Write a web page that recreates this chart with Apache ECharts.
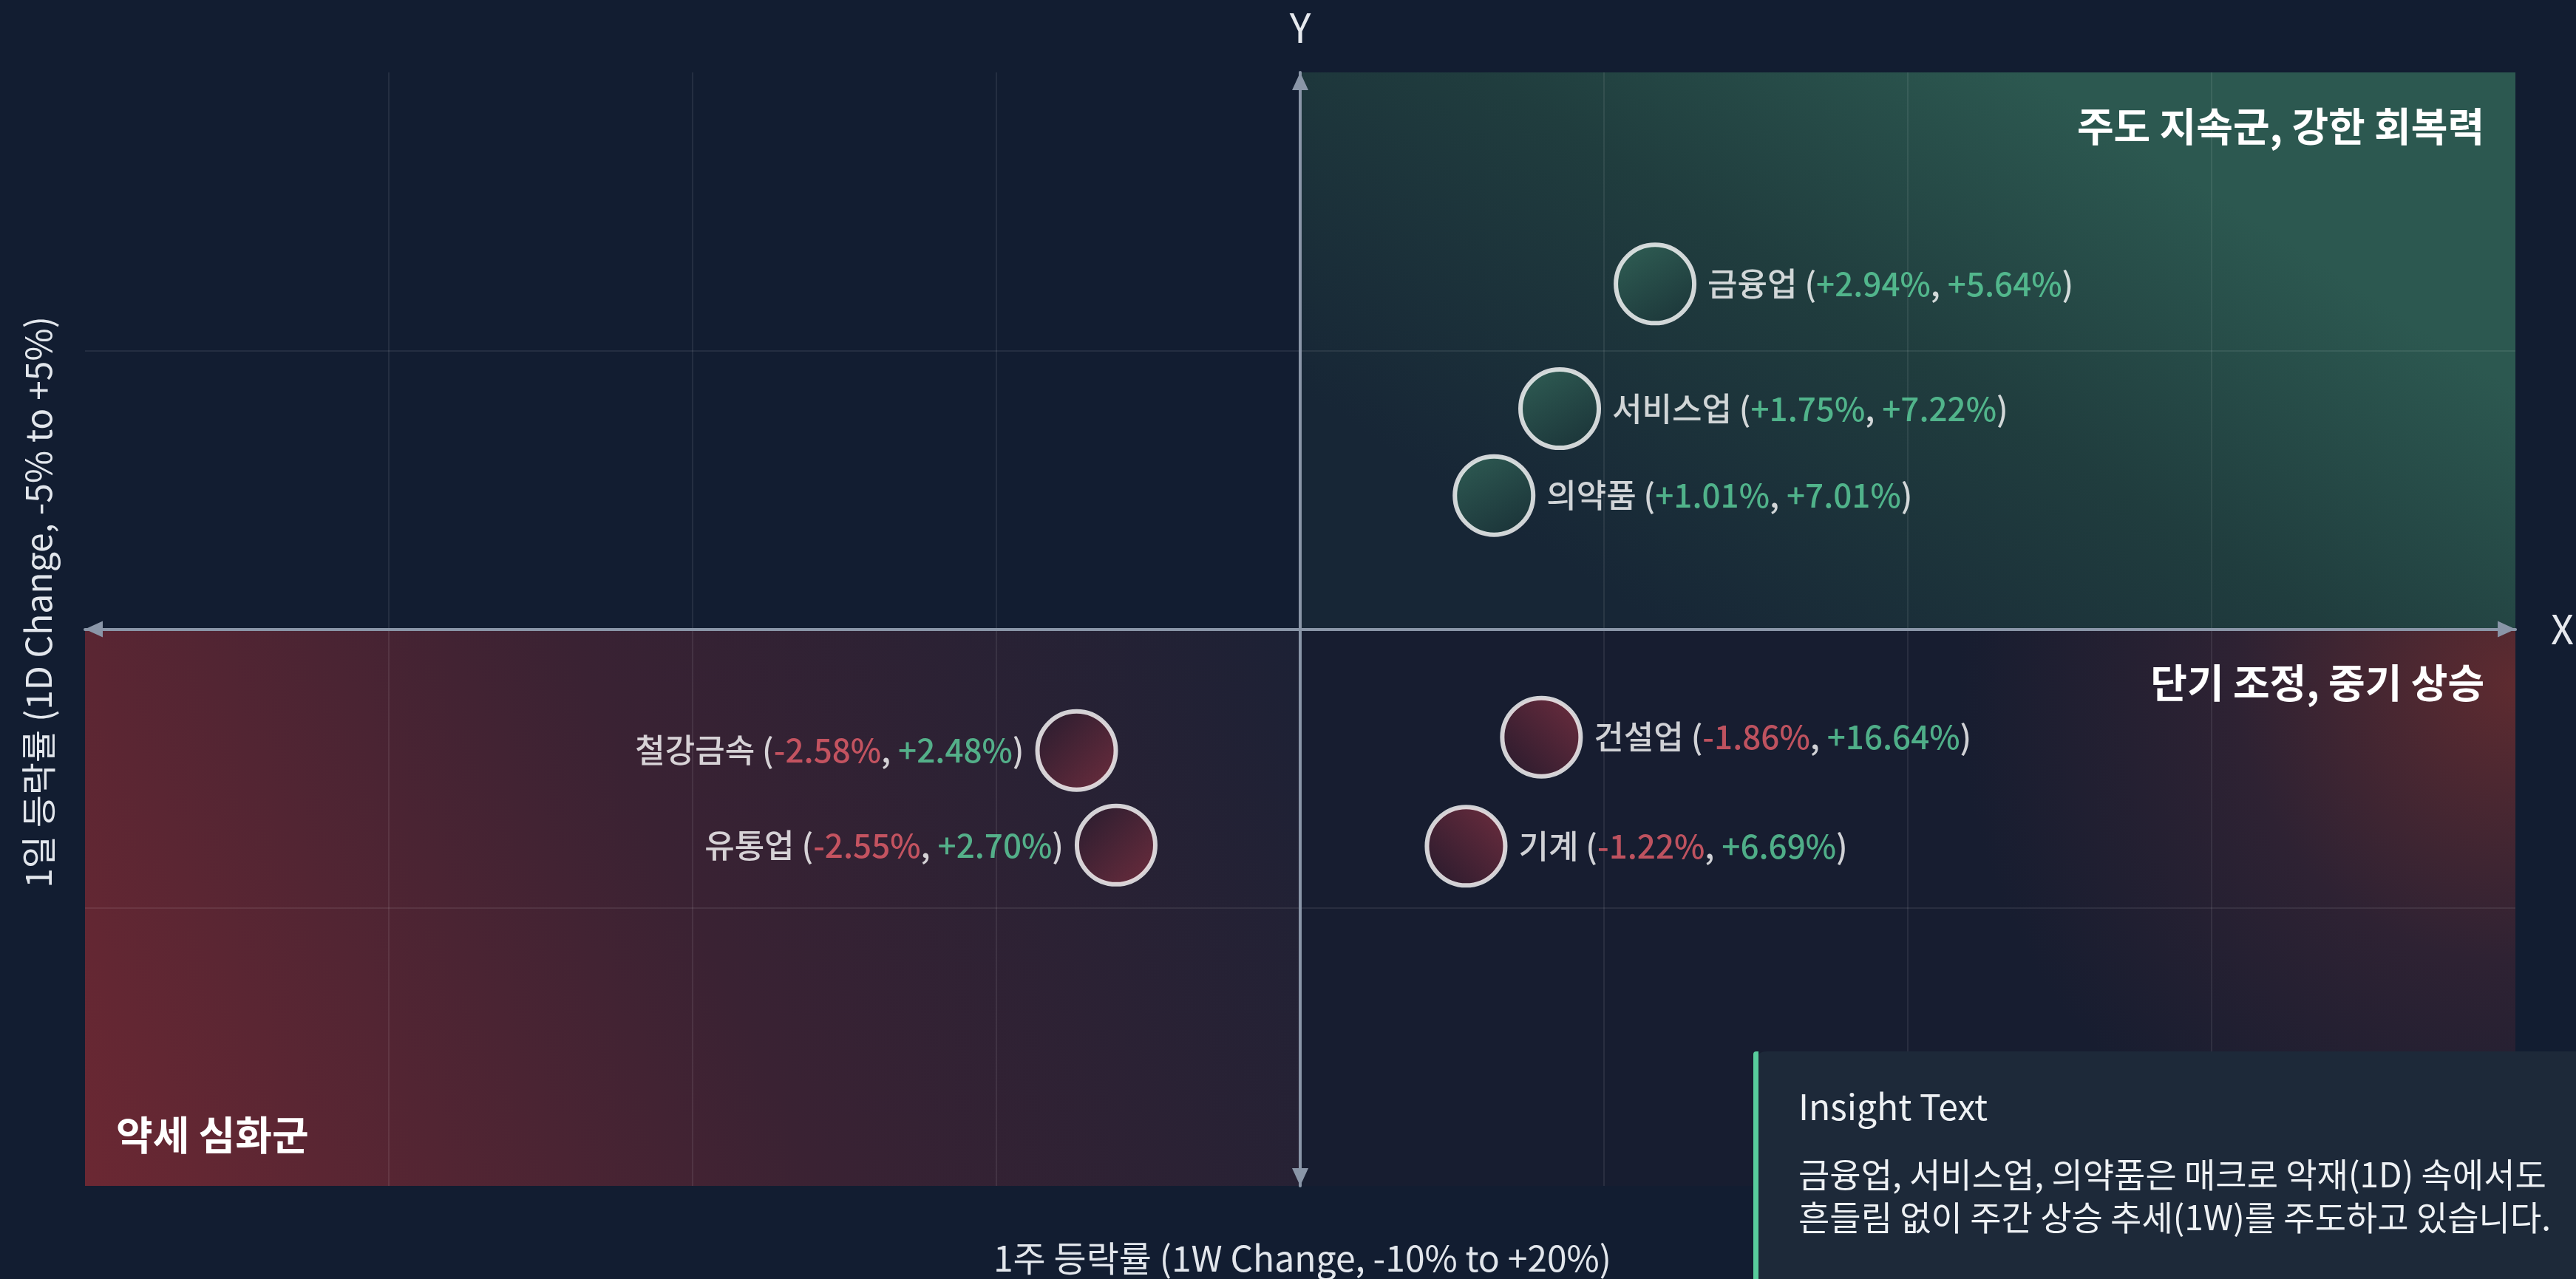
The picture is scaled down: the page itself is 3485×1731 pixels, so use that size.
<!DOCTYPE html>
<html>
<head>
<meta charset="utf-8">
<script src="https://cdn.jsdelivr.net/npm/echarts@6/dist/echarts.min.js"></script>
<style>
html,body{margin:0;padding:0;background:#121d31;}
#c{width:3485px;height:1731px;}
</style>
</head>
<body>
<div id="c"></div>
<script>
// ---- data ----
const categories = ['금융업', '서비스업', '의약품', '건설업', '기계', '철강금속', '유통업'];
const change1D = [2.94, 1.75, 1.01, -1.86, -1.22, -2.58, -2.55];
const change1W = [5.64, 7.22, 7.01, 16.64, 6.69, 2.48, 2.70];
// plotted positions (axis units)
const posX = [5.84, 4.27, 3.19, 3.97, 2.73, -3.68, -3.03];
const posY = [3.10, 1.98, 1.20, -0.97, -1.95, -1.09, -1.94];
const quadrantNames = ['주도 지속군, 강한 회복력', '단기 조정, 중기 상승', '약세 심화군'];
const xTitle = '1주 등락률 (1W Change, -10% to +20%)';
const yTitle = '1일 등락률 (1D Change, -5% to +5%)';
const insightTitle = 'Insight Text';
const insightLines = ['금융업, 서비스업, 의약품은 매크로 악재(1D) 속에서도', '흔들림 없이 주간 상승 추세(1W)를 주도하고 있습니다.'];

const FONT = '"Noto Sans CJK KR", "Noto Sans", sans-serif';
const GREEN = '#5ed39f';
const RED = '#e8606c';
const LBL = 44;

function fmt(v) { return (v > 0 ? '+' : '') + v.toFixed(2) + '%'; }
function tag(v) { return v >= 0 ? 'g' : 'r'; }

const greenFill = new echarts.graphic.LinearGradient(0.2, 0, 0.8, 1, [
  {offset: 0, color: '#336659'}, {offset: 1, color: '#1b3538'}]);
const redFillRight = new echarts.graphic.LinearGradient(1, 0, 0, 1, [
  {offset: 0, color: '#843142'}, {offset: 1, color: '#28192b'}]);
const redFillLeft = new echarts.graphic.LinearGradient(0, 0, 1, 1, [
  {offset: 0, color: '#241a2c'}, {offset: 1, color: '#803040'}]);

const points = categories.map((n, i) => ({
  name: n,
  value: [posX[i], posY[i]],
  itemStyle: {color: posY[i] >= 0 ? greenFill : (posX[i] >= 0 ? redFillRight : redFillLeft)},
  label: {
    position: posX[i] >= 0 ? 'right' : 'left',
    formatter: '{w|' + n + ' (}{' + tag(change1D[i]) + '|' + fmt(change1D[i]) + '}{w|, }{' +
      tag(change1W[i]) + '|' + fmt(change1W[i]) + '}{w|)}'
  }
}));

const qLabel = (pos) => ({
  show: true, position: pos, distance: 42, padding: [4, 0, 0, 0], color: '#ffffff',
  fontSize: 54, fontWeight: 'bold', fontFamily: FONT
});

const chart = echarts.init(document.getElementById('c'), null, {renderer: 'canvas'});
chart.setOption({
  backgroundColor: '#121d31',
  animation: false,
  grid: {left: 115, right: 80, top: 98, bottom: 126, containLabel: false},
  xAxis: {
    type: 'value', min: -20, max: 20, interval: 5, z: 2,
    name: 'X', nameLocation: 'end', nameGap: 48,
    nameTextStyle: {color: '#e6e9ee', fontSize: 54, fontFamily: FONT, verticalAlign: 'middle'},
    axisLine: {show: true, onZero: true, symbol: ['triangle', 'triangle'], symbolSize: [22, 24], symbolOffset: [12, -12],
      lineStyle: {color: '#8a96a8', width: 4}},
    axisTick: {show: false}, axisLabel: {show: false},
    splitLine: {show: true, showMinLine: false, showMaxLine: false, lineStyle: {color: 'rgba(255,255,255,0.08)', width: 2}}
  },
  yAxis: {
    type: 'value', min: -5, max: 5, interval: 2.5, z: 2,
    name: 'Y', nameLocation: 'end', nameGap: 34,
    nameTextStyle: {color: '#e6e9ee', fontSize: 54, fontFamily: FONT},
    axisLine: {show: true, onZero: true, symbol: ['triangle', 'triangle'], symbolSize: [22, 24], symbolOffset: [12, -12],
      lineStyle: {color: '#8a96a8', width: 4}},
    axisTick: {show: false}, axisLabel: {show: false},
    splitLine: {show: true, showMinLine: false, showMaxLine: false, lineStyle: {color: 'rgba(255,255,255,0.08)', width: 2}}
  },
  series: [{
    type: 'scatter', z: 3,
    symbol: 'circle', symbolSize: 106,
    itemStyle: {borderColor: '#ffffff', borderWidth: 6},
    label: {
      show: true, distance: 15, fontFamily: FONT, fontSize: LBL,
      rich: {
        w: {color: '#ffffff', fontSize: LBL, fontWeight: 500, fontFamily: FONT},
        g: {color: GREEN, fontSize: LBL, fontWeight: 500, fontFamily: FONT},
        r: {color: RED, fontSize: LBL, fontWeight: 500, fontFamily: FONT}
      }
    },
    data: points,
    markArea: {
      silent: true,
      data: [
        [{name: quadrantNames[0], coord: [0, 5], label: qLabel('insideTopRight'),
          itemStyle: {color: new echarts.graphic.LinearGradient(0.3, 1, 0.6, 0, [
            {offset: 0, color: '#172636'}, {offset: 0.55, color: '#203d3e'}, {offset: 1, color: '#2c5850'}])}},
         {coord: [20, 0]}],
        [{name: quadrantNames[1], coord: [0, 0], label: qLabel('insideTopRight'),
          itemStyle: {color: new echarts.graphic.RadialGradient(1, 0.1, 1.0, [
            {offset: 0, color: '#5e2b30'}, {offset: 0.5, color: '#2e2233'}, {offset: 1, color: '#171d30'}])}},
         {coord: [20, -5]}],
        [{name: quadrantNames[2], coord: [-20, 0], label: qLabel('insideBottomLeft'),
          itemStyle: {color: new echarts.graphic.LinearGradient(1, 0, 0, 1, [
            {offset: 0, color: '#1c2135'}, {offset: 0.5, color: '#3a2233'}, {offset: 1, color: '#6b2833'}])}},
         {coord: [0, -5]}]
      ]
    }
  }],
  graphic: [
    {type: 'text', x: 1762, y: 1703, z: 100,
      style: {text: xTitle, fill: '#e2e6ec', fontSize: 48, fontFamily: FONT, align: 'center', verticalAlign: 'middle'}},
    {type: 'text', x: 52, y: 815, rotation: Math.PI / 2, z: 100,
      style: {text: yTitle, fill: '#e2e6ec', fontSize: 48, fontFamily: FONT, align: 'center', verticalAlign: 'middle'}},
    {type: 'rect', x: 2372, y: 1423, z: 100, shape: {x: 0, y: 0, width: 1200, height: 400, r: [18, 0, 0, 0]}, style: {fill: '#1d2939'}},
    {type: 'rect', x: 2372, y: 1423, z: 101, shape: {x: 0, y: 0, width: 7, height: 400, r: [4, 0, 0, 0]}, style: {fill: '#58cc9c'}},
    {type: 'text', x: 2433, y: 1498, z: 102, style: {text: insightTitle, fill: '#eef1f4', fontSize: 48, fontFamily: FONT, verticalAlign: 'middle'}},
    {type: 'text', x: 2433, y: 1590, z: 102, style: {text: insightLines[0], fill: '#eef1f4', fontSize: 46, fontFamily: FONT, verticalAlign: 'middle'}},
    {type: 'text', x: 2433, y: 1648, z: 102, style: {text: insightLines[1], fill: '#eef1f4', fontSize: 46, fontFamily: FONT, verticalAlign: 'middle'}}
  ]
});
</script>
</body>
</html>
